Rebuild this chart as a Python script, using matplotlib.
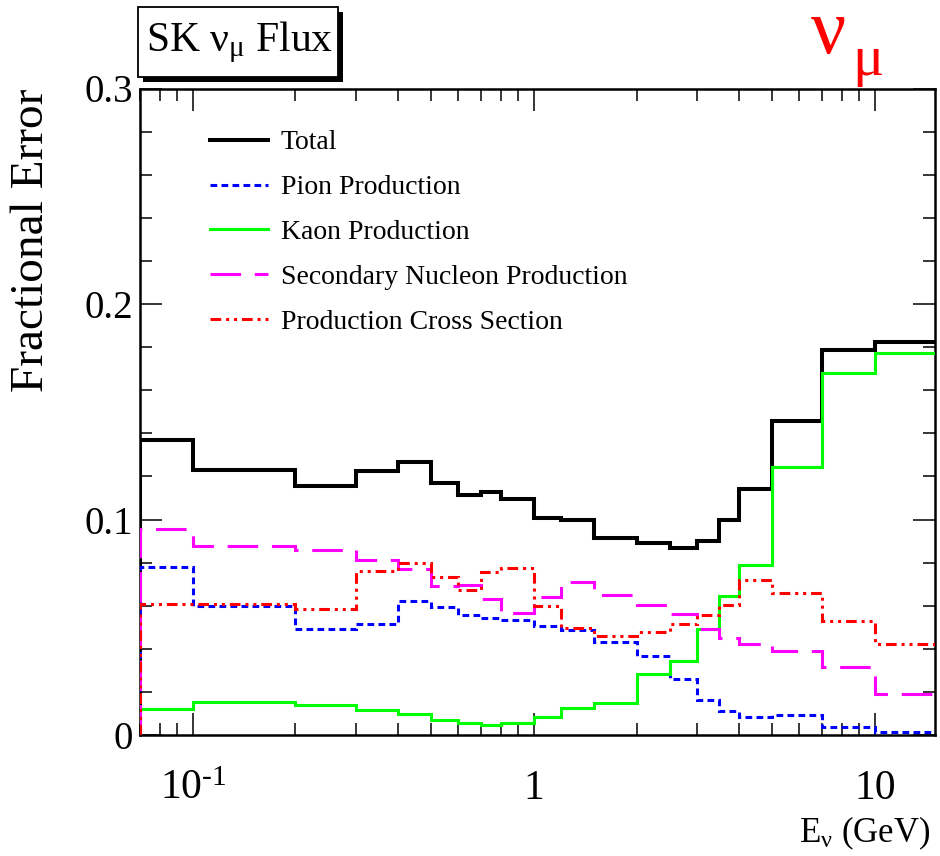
import matplotlib
matplotlib.use("Agg")
import matplotlib.pyplot as plt
from matplotlib.patches import Rectangle
from matplotlib.ticker import FixedLocator, MultipleLocator, LogLocator, NullFormatter

plt.rcParams['font.family'] = ['Liberation Serif', 'DejaVu Serif']
plt.rcParams['mathtext.fontset'] = 'custom'
plt.rcParams['mathtext.rm'] = 'Liberation Serif'
plt.rcParams['mathtext.it'] = 'Liberation Serif'
plt.rcParams['mathtext.bf'] = 'Liberation Serif:bold'

# ---- data (bin edges in GeV, fractional errors per bin) ----
edges = [0.07, 0.1, 0.2, 0.3, 0.4, 0.5, 0.6, 0.7, 0.8, 1.0, 1.2, 1.5, 2.0,
         2.5, 3.0, 3.5, 4.0, 5.0, 7.0, 10.0, 30.0]
total = [0.137, 0.123, 0.1155, 0.1227, 0.1268, 0.1168, 0.1114, 0.1126, 0.1095,
         0.1005, 0.0998, 0.0913, 0.0892, 0.0866, 0.0902, 0.0998, 0.1142, 0.1459,
         0.1787, 0.1822]
pion = [0.0778, 0.060, 0.0492, 0.0516, 0.0622, 0.0593, 0.0557, 0.0541, 0.0532,
        0.0508, 0.0487, 0.0433, 0.0367, 0.0258, 0.0162, 0.0113, 0.0085, 0.0093,
        0.0036, 0.0013]
kaon = [0.0121, 0.0152, 0.0139, 0.0116, 0.0096, 0.007, 0.0054, 0.0046, 0.0054,
        0.0082, 0.0124, 0.015, 0.0283, 0.0345, 0.049, 0.0645, 0.0789, 0.1245,
        0.1678, 0.1771]
secondary = [0.0956, 0.0877, 0.0858, 0.0812, 0.0769, 0.0692, 0.0698, 0.0632,
             0.0567, 0.064, 0.0711, 0.065, 0.0603, 0.0561, 0.049, 0.0449, 0.0422,
             0.039, 0.0314, 0.019]
cross = [0.0608, 0.0608, 0.0583, 0.076, 0.0797, 0.0735, 0.0673, 0.0755, 0.0773,
         0.0599, 0.0495, 0.0459, 0.0476, 0.0515, 0.0557, 0.0603, 0.0719, 0.0657,
         0.053, 0.0422]
labels = ["Total", "Pion Production", "Kaon Production",
          "Secondary Nucleon Production", "Production Cross Section"]
x_range = (0.07, 15.0)
y_range = (0.0, 0.3)
y_ticks = [0.0, 0.1, 0.2, 0.3]
y_ticklabels = ["0", "0.1", "0.2", "0.3"]
x_ticks = [0.1, 1.0, 10.0]
x_ticklabels = [r"10$^{\text{-1}}$", "1", "10"]

fig = plt.figure(figsize=(9.4, 8.56), dpi=100)
W, H = 940.0, 856.0
L, R, T, B = 140, 935, 88.5, 735
ax = fig.add_axes([L / W, 1 - B / H, (R - L) / W, (B - T) / H])

series = [
    (total, dict(color='black', lw=2.9, ls='-')),
    (pion, dict(color='#0000ff', lw=2.2, ls=(0, (2.2, 1.4)))),
    (kaon, dict(color='#00ff00', lw=2.2, ls='-')),
    (secondary, dict(color='#ff00ff', lw=2.2, ls=(0, (10, 4.5)))),
    (cross, dict(color='#ff0000', lw=2.2, ls=(0, (3.5, 1.6, 1, 1.6, 1, 1.6)))),
]
for (vals, st), lab in zip(series, labels):
    ax.stairs(vals, edges, baseline=0, label=lab, zorder=3,
              color=st['color'], linewidth=st['lw'], linestyle=st['ls'])

ax.set_xscale('log')
ax.set_xlim(*x_range)
ax.set_ylim(*y_range)

ax.xaxis.set_major_locator(FixedLocator(x_ticks))
ax.set_xticklabels(x_ticklabels)
ax.xaxis.set_minor_locator(LogLocator(base=10, subs=range(2, 10)))
ax.xaxis.set_minor_formatter(NullFormatter())
ax.yaxis.set_major_locator(FixedLocator(y_ticks))
ax.set_yticklabels(y_ticklabels)
ax.yaxis.set_minor_locator(MultipleLocator(0.02))

ax.tick_params(which='both', direction='in', top=True, right=True,
               width=1.1, colors='black')
ax.tick_params(which='major', length=16)
ax.tick_params(which='minor', length=8.5)
ax.tick_params(axis='y', which='major', labelsize=28, pad=5)
ax.tick_params(axis='x', which='major', labelsize=30, pad=46)
for lab in ax.get_xticklabels():
    lab.set_verticalalignment('baseline')
for sp in ax.spines.values():
    sp.set_linewidth(1.8)

ax.set_ylabel("Fractional Error", fontsize=34, loc='top')
ax.yaxis.set_label_coords((53 - L) / (R - L), 1.0)
ax.set_xlabel(r"E$_{\nu}$ (GeV)", fontsize=25, loc='right')
ax.xaxis.set_label_coords((930 - L) / (R - L), -(815 - B) / (B - T))
ax.xaxis.label.set_verticalalignment('top')

# legend
legend_handles = []
for (vals, st), lab in zip(series, labels):
    ln, = ax.plot([], [], color=st['color'], lw=st['lw'], ls=st['ls'], label=lab)
    legend_handles.append(ln)
ax.legend(handles=legend_handles, loc='upper left', frameon=False,
          bbox_to_anchor=((210 - L) / (R - L), 1 - (130 - T) / (B - T)),
          borderaxespad=0, borderpad=0, fontsize=20, handlelength=2.1,
          handletextpad=0.45, labelspacing=0.7)

# title pave with shadow
bx0, by0, bx1, by1 = 138, 7, 338, 77
sh = 5
fig.patches.append(Rectangle(((bx0 + sh) / W, 1 - (by1 + sh) / H),
                             (bx1 - bx0) / W, (by1 - by0) / H,
                             transform=fig.transFigure, facecolor='black',
                             edgecolor='black', lw=0, zorder=1))
fig.patches.append(Rectangle((bx0 / W, 1 - by1 / H),
                             (bx1 - bx0) / W, (by1 - by0) / H,
                             transform=fig.transFigure, facecolor='white',
                             edgecolor='black', lw=1.3, zorder=2))
fig.text(146 / W, 1 - 42 / H, r"SK $\nu_{\mu}$ Flux", fontsize=30,
         ha='left', va='center', zorder=3)

# red nu_mu label
fig.text(810 / W, 1 - 53 / H, r"$\nu$", fontsize=56, color='#ff0000',
         ha='left', va='baseline')
fig.text(852 / W, 1 - 75 / H, r"$\mu$", fontsize=42, color='#ff0000',
         ha='left', va='baseline')

fig.savefig("out.png", dpi=100)
